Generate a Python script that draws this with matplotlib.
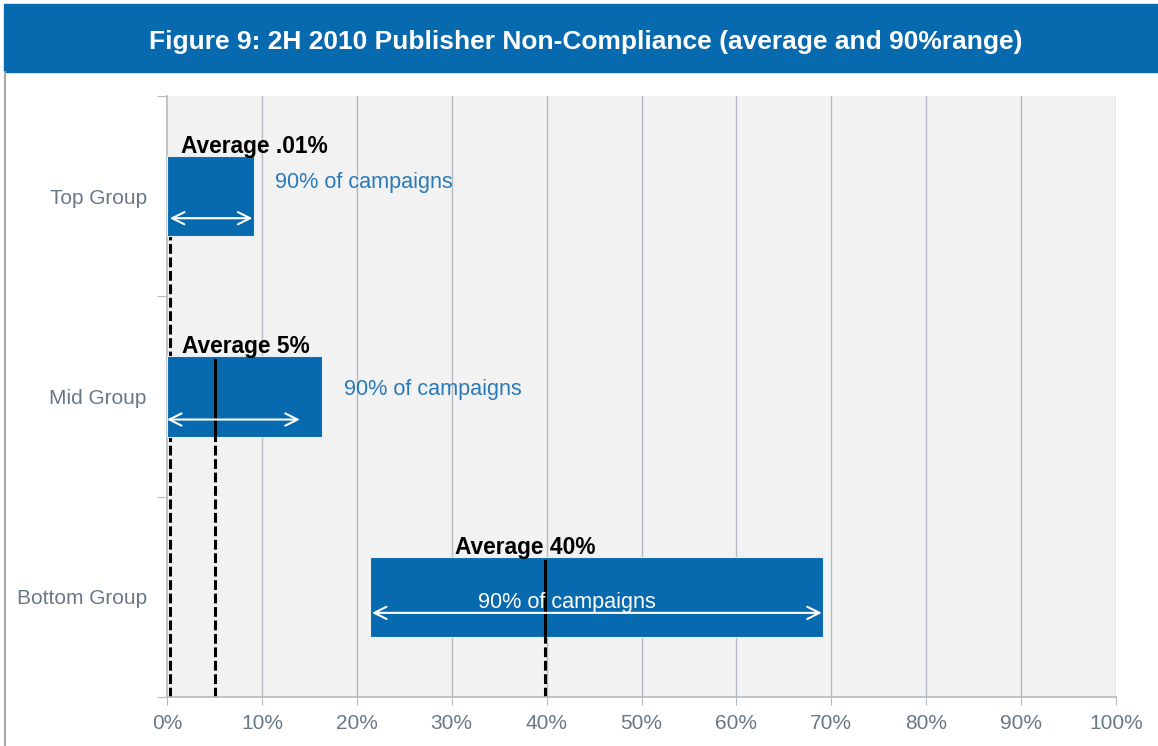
import matplotlib
matplotlib.use("Agg")
import matplotlib.pyplot as plt
from matplotlib.patches import Rectangle
from matplotlib.lines import Line2D

plt.rcParams["font.family"] = ["Liberation Sans", "DejaVu Sans"]

# Chart data (percent non-compliance)
groups = ["Top Group", "Mid Group", "Bottom Group"]
range_lo = [0.0, 0.0, 21.4]
range_hi = [9.2, 16.3, 69.1]
averages = [0.3, 5.1, 39.8]
avg_labels = ["Average .01%", "Average 5%", "Average 40%"]
# arrow extents as drawn in the original (percent)
arrow_lo = [0.3, 0.0, 21.6]
arrow_hi = [9.0, 14.0, 69.0]
x_ticks = list(range(0, 101, 10))

BLUE = "#0769ae"
GRID = "#b4bac0"
TICK = "#6a7886"

fig = plt.figure(figsize=(11.58, 7.46), dpi=100)
W, H = 1158, 746

# title banner
fig.patches.append(Rectangle((4 / W, 1 - 72 / H), 1 - 4 / W, 68 / H,
                             transform=fig.transFigure, color=BLUE, zorder=0))
fig.text(586 / W, 1 - 42 / H,
         "Figure 9: 2H 2010 Publisher Non-Compliance (average and 90%range)",
         color="white", fontsize=19, fontweight="bold", ha="center", va="center")
fig.lines.append(Line2D([4.5 / W, 4.5 / W], [0, 1 - 72 / H], transform=fig.transFigure,
                        color="#a8a8a8", lw=1.5))

ax = fig.add_axes([167 / W, 1 - 697 / H, (1116 - 167) / W, (697 - 96) / H])
ax.set_facecolor("#f2f2f2")
ax.set_xlim(0, 100)
ax.set_ylim(0, 3)

centers = [2.5 - i for i in range(len(groups))]
bar_h = 0.4

for x in x_ticks[1:]:
    ax.axvline(x, color=GRID, lw=1, zorder=1)

# dashed average lines from bar bottom to axis
for c, a in zip(centers, averages):
    ax.plot([a, a], [0, c - bar_h / 2], color="black", lw=2.2,
            ls=(0, (3.2, 1.2)), zorder=2)

ax.barh(centers, [h - l for l, h in zip(range_lo, range_hi)], left=range_lo,
        height=bar_h, color=BLUE, edgecolor="#e8eef4", lw=0.8, zorder=3)

for i, (c, a) in enumerate(zip(centers, averages)):
    if i > 0:
        ax.plot([a, a], [c - bar_h / 2, c + bar_h / 2 - 0.02], color="black",
                lw=2.2, zorder=4)
    ax.text([1.5, 1.6, 30.3][i], c + bar_h / 2 + 0.015, avg_labels[i],
            fontsize=16.4, fontweight="bold", color="black", va="baseline",
            ha="left", zorder=5)

arrow_off = [-0.11, -0.115, -0.08]
for c, lo, hi, off in zip(centers, arrow_lo, arrow_hi, arrow_off):
    ax.annotate("", xy=(hi, c + off), xytext=(lo, c + off),
                arrowprops=dict(arrowstyle="<->", color="white", lw=1.5,
                                mutation_scale=22, shrinkA=0, shrinkB=0),
                zorder=5)

camp_pos = [(11.4, 2.57, "#2a7ab9"), (18.65, 1.537, "#2a7ab9"), (32.8, 0.474, "white")]
for x, y, col in camp_pos:
    ax.text(x, y, "90% of campaigns", fontsize=15.6, color=col, ha="left",
            va="center", zorder=5)

ax.set_xticks(x_ticks)
ax.set_xticklabels([f"{t}%" for t in x_ticks], color=TICK, fontsize=15)
ax.set_yticks([0, 1, 2, 3])
ax.set_yticklabels([])
ax.set_yticks(centers, minor=True)
ax.set_yticklabels(groups, minor=True, color=TICK, fontsize=15)
ax.tick_params(axis="y", which="minor", length=0, pad=14.5)
ax.tick_params(axis="y", which="major", length=7, color=GRID)
ax.tick_params(axis="x", length=6, color=GRID, pad=6)

for s in ["top", "right"]:
    ax.spines[s].set_visible(False)
for s in ["left", "bottom"]:
    ax.spines[s].set_color(GRID)
    ax.spines[s].set_linewidth(1.2)

fig.savefig("out.png", dpi=100, facecolor="white")
